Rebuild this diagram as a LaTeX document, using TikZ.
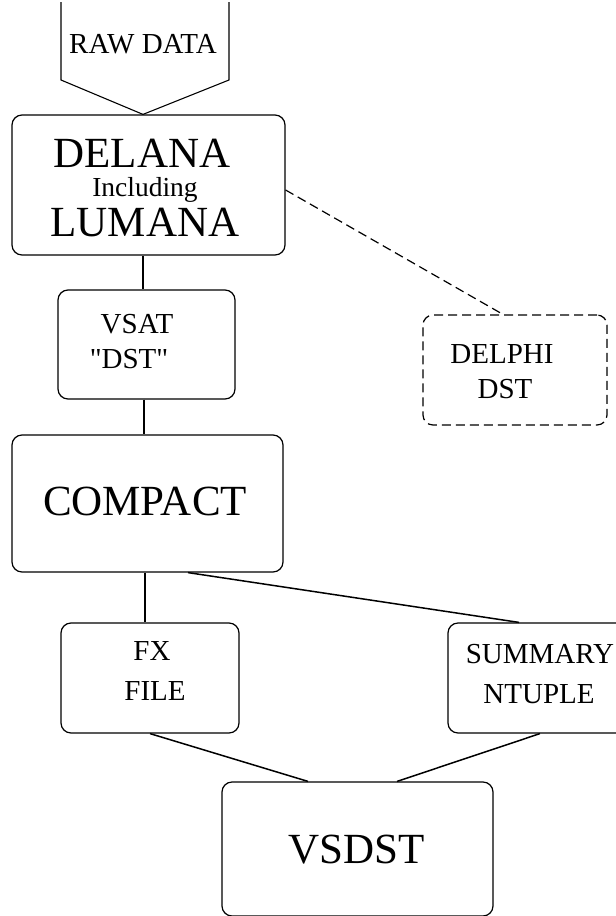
\documentclass[tikz,border=0pt]{standalone}
\usepackage{fontspec}
\setmainfont{Liberation Serif}
\newfontfamily\straightq{Liberation Serif}[Ligatures=TeXOff]
\begin{document}
\begin{tikzpicture}[x=1pt,y=-1pt,
  box/.style={draw, rounded corners=10pt, line width=1.2pt, inner sep=0pt},
  dbox/.style={box, dash pattern=on 9pt off 5pt},
  big/.style={anchor=base, inner sep=0pt, font=\fontsize{43}{43}\selectfont},
  small/.style={anchor=base, inner sep=0pt, font=\fontsize{29}{29}\selectfont},
  conn/.style={line width=1.1pt},
  dconn/.style={line width=1.2pt, dash pattern=on 9pt off 5pt}]
\useasboundingbox (0,0) rectangle (616,916);
% boxes
\node[box, minimum width=273pt, minimum height=140pt] (delana) at (148.5,185) {};
\node[box, minimum width=177pt, minimum height=109pt] (vsat) at (146.5,344.5) {};
\node[box, minimum width=271pt, minimum height=137pt] (compact) at (147.5,503.5) {};
\node[dbox, minimum width=184pt, minimum height=110pt] (delphi) at (515,370) {};
\node[box, minimum width=178pt, minimum height=110pt] (fx) at (150,678) {};
\node[box, minimum width=184pt, minimum height=110pt] (summary) at (540,678) {};
\node[box, minimum width=271pt, minimum height=134pt] (vsdst) at (357.5,849) {};
% texts
\node[small] (rawT) at (143,53) {RAW DATA};
\node[big] (delanaT) at (142,167) {DELANA};
\node[small, font=\fontsize{27.5}{27.5}\selectfont] (inclT) at (145,196) {Including};
\node[big] (lumanaT) at (145,236) {LUMANA};
\node[small] (vsatT) at (137,333) {VSAT};
\node[small] (dstT) at (129,368) {\straightq "DST"};
\node[big] (compactT) at (145,515) {COMPACT};
\node[small] (delphiT) at (502,363) {DELPHI};
\node[small] (delphiT2) at (505,398) {DST};
\node[small] (fxT) at (152,660) {FX};
\node[small] (fileT) at (155,700) {FILE};
\node[small] (summaryT) at (540,663) {SUMMARY};
\node[small] (ntupleT) at (539,703) {NTUPLE};
\node[big] (vsdstT) at (357,863) {VSDST};
% raw data arrow shape
\coordinate (rawTL) at (61,2);
\coordinate (rawTR) at (229,2);
\draw[conn] (rawTL) -- (61,80) -- ([xshift=-5.5pt]delana.north) -- (229,80) -- (rawTR);
% connectors
\draw[conn] ([xshift=-5.5pt]delana.south) -- ([xshift=-3.5pt]vsat.north);
\draw[conn] ([xshift=-2.5pt]vsat.south) -- ([xshift=-3.5pt]compact.north);
\draw[conn] ([xshift=-2.5pt]compact.south) -- ([xshift=-5pt]fx.north);
\draw[conn, line width=1.5pt] ([xshift=40.5pt]compact.south) -- ([xshift=-21pt]summary.north);
\draw[conn, line width=1.5pt] (fx.south) -- ([xshift=-49.5pt]vsdst.north);
\draw[conn, line width=1.5pt] (summary.south) -- ([xshift=39.5pt]vsdst.north);
\draw[dconn] ([yshift=-5pt]delana.east) -- ([xshift=-12pt]delphi.north);
\end{tikzpicture}
\end{document}
